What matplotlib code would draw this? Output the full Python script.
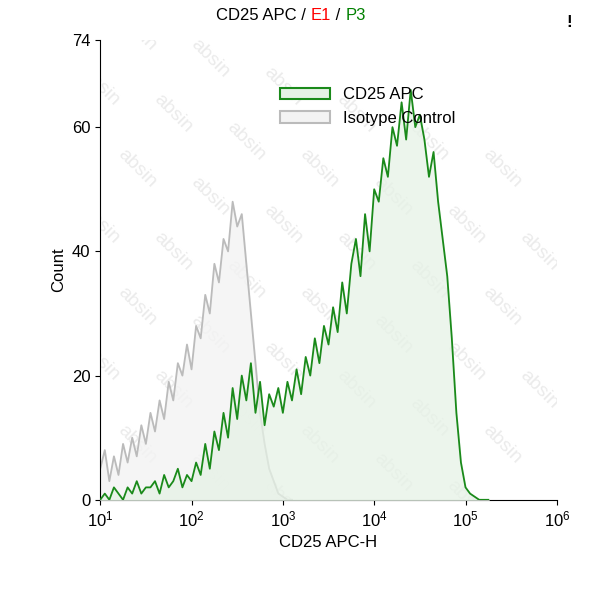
import numpy as np
import matplotlib
matplotlib.use("Agg")
import matplotlib.pyplot as plt
import matplotlib.patches as mp

plt.rcParams['font.family'] = ['Liberation Sans', 'DejaVu Sans']

iso_counts = [5,8,3,7,4,9,6,10,7,12,9,14,11,16,13,19,16,22,20,25,21,28,26,33,30,38,35,42,40,48,44,46,38,30,22,14,9,5,3,1,0.5,0,0]
cd25_counts = [0,1,0,2,1,0,2,1,3,1,2,
               2,3,1,4,2,3,5,2,4,3,
               6,4,9,5,11,8,14,10,18,13,
               20,16,22,14,19,12,17,15,18,14,
               19,16,21,17,23,20,26,22,28,25,
               31,27,35,30,38,42,36,46,40,50,
               48,55,52,60,57,64,58,66,60,62,
               58,52,56,48,42,36,26,14,6,2,
               1,0.5,0,0,0]
log_start = 1.0
log_step = 0.05

iso_x = 10 ** (log_start + log_step * np.arange(len(iso_counts)))
cd_x = 10 ** (log_start + log_step * np.arange(len(cd25_counts)))

fig = plt.figure(figsize=(5.93, 6.0), dpi=100)
ax = fig.add_axes([0.169, 0.167, 0.77, 0.766])

for i in range(-4, 8):
    for j in range(-4, 8):
        fx = 0.16 * i + 0.08 * j
        fy = 0.12 * j - 0.06 * i
        if -0.05 < fx < 1.05 and -0.05 < fy < 1.05:
            ax.text(fx, fy, "absin", transform=ax.transAxes, rotation=-45, fontsize=14,
                    color="#ebebeb", ha="center", va="center", zorder=0, clip_on=True)

ax.fill_between(iso_x, iso_counts, color="#f3f3f3", alpha=0.8, zorder=1)
ax.plot(iso_x, iso_counts, color="#bbbbbb", lw=1.3, zorder=2)
ax.fill_between(cd_x, cd25_counts, color="#e6f2e6", alpha=0.75, zorder=3)
ax.plot(cd_x, cd25_counts, color="#1a8a1a", lw=1.3, zorder=4)

ax.set_xscale("log")
ax.set_xlim(10, 1e6)
ax.set_ylim(0, 74)
ax.set_yticks([0, 20, 40, 60, 74])
ax.spines["top"].set_visible(False)
ax.spines["right"].set_visible(False)
ax.tick_params(labelsize=12, direction="out")
ax.minorticks_off()
ax.set_xlabel("CD25 APC-H", fontsize=12)
ax.set_ylabel("Count", fontsize=12)

handles = [mp.Patch(facecolor="#e6f2e6", edgecolor="#1a8a1a", lw=1.5),
           mp.Patch(facecolor="#f3f3f3", edgecolor="#bbbbbb", lw=1.5)]
ax.legend(handles, ["CD25 APC", "Isotype Control"], loc="upper left",
          bbox_to_anchor=(0.36, 0.93), frameon=False, fontsize=12, handlelength=3)

y = 0.975
parts = [("CD25 APC / ", "black"), ("E1", "red"), (" / ", "black"), ("P3", "green")]
fig.canvas.draw()
r = fig.canvas.get_renderer()
x = 0.365
for s, c in parts:
    tt = fig.text(x, y, s, color=c, fontsize=12, va="center")
    bb = tt.get_window_extent(r)
    x += bb.width / fig.bbox.width
fig.text(0.955, 0.955, "!", fontsize=12, fontweight="bold")
fig.savefig("out.png", dpi=100)
